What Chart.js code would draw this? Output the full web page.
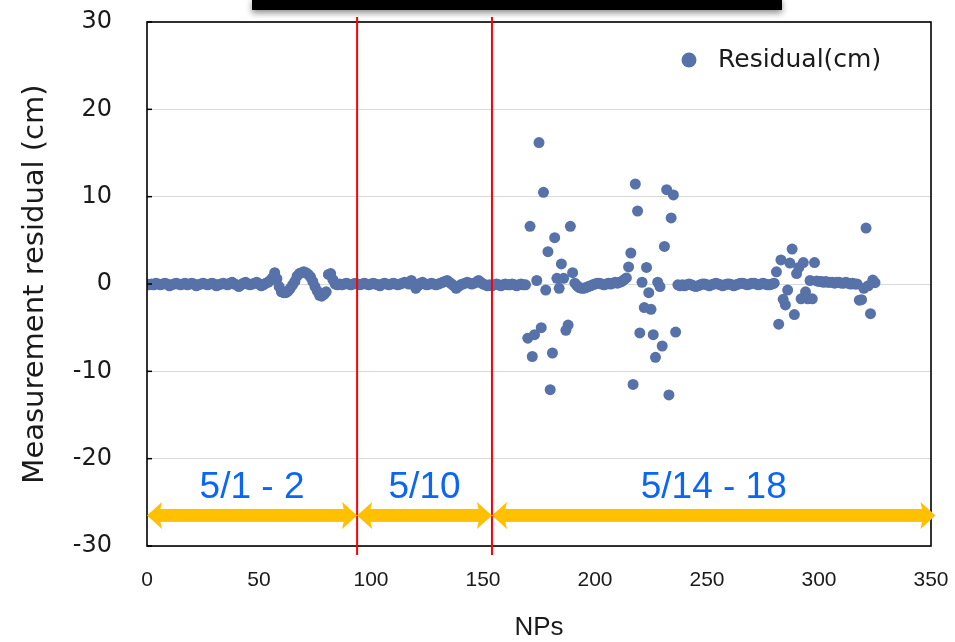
<!DOCTYPE html>
<html>
<head>
<meta charset="utf-8">
<script src="https://cdn.jsdelivr.net/npm/chart.js@4.4.1/dist/chart.umd.min.js"></script>
<style>
  html, body { margin: 0; padding: 0; background: #ffffff; }
  #wrap { width: 955px; height: 642px; position: relative; }
</style>
</head>
<body>
<div id="wrap"><canvas id="c" width="955" height="642"></canvas></div>
<script>
// ---- Data ----
// Residuals (cm) per NP index, split in consecutive runs with their first NP number
const run1Start = 0;
const run1 = [
  0.0,-0.1,0.0,-0.1,0.1,0.0,-0.1,0.0,0.1,0.0,
  -0.2,-0.1,0.0,0.1,0.0,-0.1,0.0,0.1,-0.1,0.0,
  0.1,0.0,-0.2,-0.1,0.0,0.1,0.0,-0.1,0.0,0.1,
  0.0,-0.2,-0.1,0.0,0.1,0.0,-0.1,0.1,0.2,0.0,
  -0.1,-0.3,-0.1,0.1,0.2,0.0,-0.1,0.0,0.1,0.2,
  0.0,-0.2,-0.1,0.1,0.2,0.4,0.7,1.3,0.6,-0.3
];
const run2Start = 60;
const run2 = [
  -0.9,-1.0,-1.0,-0.8,-0.5,-0.1,0.3,0.9,1.2,1.3,
  1.4,1.3,1.1,0.8,0.3,-0.3,-0.8,-1.3,-1.4,-1.2,
  -0.9,1.1,1.2,0.5,0.0,-0.1,0.0,-0.1,0.0,0.1
];
const run3Start = 90;
const run3 = [
  0.0,-0.1,0.0,0.1,0.0,-0.1,0.0,0.1,0.0,-0.1,
  0.0,0.1,0.0,-0.1,-0.2,0.0,0.1,0.0,-0.1,0.0,
  0.1,0.0,-0.1,0.0,0.1,0.2,0.1,0.0,0.4,0.0,
  -0.5,-0.2,0.1,0.2,0.0,-0.1,0.0,0.1,0.0,-0.1,
  0.0,0.1,0.2,0.3,0.4,0.2,0.0,-0.2,-0.5,-0.3,
  -0.1,0.0,0.1,0.2,0.1,0.0,0.1,0.2,0.4,0.2,
  0.0,-0.1,-0.2,-0.1
];
const run4Start = 154;
const run4 = [
  -0.2,-0.1,0.0,-0.1,-0.2,-0.1,0.0,-0.1,-0.1,0.0,
  -0.1,-0.2,-0.1,0.0,-0.1,-0.1
];
const run5Start = 170;
const run5 = [
  -6.2,6.6,-8.3,-5.8,0.4,16.2,-5.0,10.5,-0.7,3.7,
  -12.1,-7.9,5.3,0.65,-0.5,2.3,0.65,-5.3,-4.7,6.6,
  1.3
];
const run6Start = 191;
const run6 = [
  0.1,-0.2,-0.4,-0.5,-0.5,-0.4,-0.3,-0.2,-0.1,0.0,
  0.1,0.1,0.0,-0.1,0.0,0.1,0.0,0.1,0.2,0.1,
  0.2,0.3,0.5,0.7
];
const run7Start = 215;
const run7 = [
  1.95,3.55,-11.5,11.45,8.36,-5.6,0.2,-2.7,1.9,-1.0,
  -2.9,-5.8,-8.4,0.2,-0.3,-7.1,4.3,10.8,-12.7,7.56,
  10.2,-5.5
];
const run8Start = 237;
const run8 = [
  -0.1,-0.2,-0.1,-0.2,-0.1,0.0,-0.1,-0.2,-0.3,-0.2,
  -0.1,0.0,0.0,-0.1,-0.2,-0.1,0.0,0.1,0.0,-0.1,
  -0.2,-0.1,0.0,0.0,-0.1,-0.2,-0.1,0.0,0.1,0.1,
  0.0,-0.1,0.0,0.1,0.1,0.0,-0.1,0.0,0.1,0.0,
  -0.1,-0.1,0.0,0.1
];
const run9Start = 281;
const run9 = [
  1.4,-4.6,2.75,-1.75,-2.4,-0.7,2.4,4.0,-3.5,1.2,
  1.9,-1.7,2.45,-0.9,-1.7,0.4,-1.7,2.45,0.35
];
const run10Start = 300;
const run10 = [
  0.3,0.3,0.2,0.3,0.2,0.2,0.2,0.1,0.2,0.2,
  0.1,0.1,0.2,0.1,0.0,0.1,0.0
];
const run11Start = 317;
const run11 = [0.0,-1.85,-1.8,-0.5,6.4,-0.2,-3.4,0.45,0.15];

// Measurement periods (NP boundaries) and their labels
const periodBounds = [0, 93.8, 154, 352];
const periodLabels = ['5/1 - 2', '5/10', '5/14 - 18'];
const periodArrowY = -26.5;
const periodLabelY = -23.3;

// Axis ticks
const xTicks = [0, 50, 100, 150, 200, 250, 300, 350];
const yTicks = [-30, -20, -10, 0, 10, 20, 30];
const seriesName = 'Residual(cm)';

// ---- Build points ----
const runs = [
  [run1Start, run1], [run2Start, run2], [run3Start, run3], [run4Start, run4],
  [run5Start, run5], [run6Start, run6], [run7Start, run7], [run8Start, run8],
  [run9Start, run9], [run10Start, run10], [run11Start, run11]
];
const points = [];
runs.forEach(([start, vals]) => vals.forEach((v, i) => points.push({ x: start + i, y: v })));

const POINT_COLOR = '#5672A8';
const TEXT_COLOR = '#1a1a1a';

const overlay = {
  id: 'overlay',
  afterDatasetsDraw(chart) {
    const ctx = chart.ctx;
    const a = chart.chartArea;
    const xs = chart.scales.x, ys = chart.scales.y;
    ctx.save();

    // inward tick marks on the y axis
    ctx.strokeStyle = '#000';
    ctx.lineWidth = 1.5;
    yTicks.forEach(t => {
      const py = ys.getPixelForValue(t);
      ctx.beginPath();
      ctx.moveTo(a.left, py);
      ctx.lineTo(a.left + 5, py);
      ctx.stroke();
    });

    // frame
    ctx.strokeStyle = '#000';
    ctx.lineWidth = 1.6;
    ctx.strokeRect(a.left, a.top, a.right - a.left, a.bottom - a.top);

    // red period separators
    ctx.strokeStyle = '#ff0000';
    ctx.lineWidth = 2;
    [periodBounds[1], periodBounds[2]].forEach(v => {
      const px = xs.getPixelForValue(v);
      ctx.beginPath();
      ctx.moveTo(px, a.top - 5);
      ctx.lineTo(px, a.bottom + 9);
      ctx.stroke();
    });

    // gold double arrows
    const ay = ys.getPixelForValue(periodArrowY);
    ctx.fillStyle = '#FFC000';
    for (let i = 0; i < periodLabels.length; i++) {
      const x1 = xs.getPixelForValue(periodBounds[i]);
      const x2 = xs.getPixelForValue(periodBounds[i + 1]);
      const hl = 15, hh = 13.5, sh = 6.5;
      ctx.fillRect(x1 + hl - 4, ay - sh, (x2 - x1) - 2 * hl + 8, sh * 2);
      ctx.beginPath();
      ctx.moveTo(x1, ay);
      ctx.lineTo(x1 + hl, ay - hh);
      ctx.lineTo(x1 + hl - 3, ay);
      ctx.lineTo(x1 + hl, ay + hh);
      ctx.closePath();
      ctx.fill();
      ctx.beginPath();
      ctx.moveTo(x2, ay);
      ctx.lineTo(x2 - hl, ay - hh);
      ctx.lineTo(x2 - hl + 3, ay);
      ctx.lineTo(x2 - hl, ay + hh);
      ctx.closePath();
      ctx.fill();
    }

    // period labels
    const ly = ys.getPixelForValue(periodLabelY);
    ctx.fillStyle = '#0a66f5';
    ctx.font = '37px "Liberation Sans", Arial, sans-serif';
    ctx.textAlign = 'center';
    ctx.textBaseline = 'middle';
    for (let i = 0; i < periodLabels.length; i++) {
      const cx = (xs.getPixelForValue(periodBounds[i]) + xs.getPixelForValue(periodBounds[i + 1])) / 2;
      ctx.fillText(periodLabels[i], cx, ly);
    }

    // legend inside plot area
    ctx.fillStyle = POINT_COLOR;
    ctx.beginPath();
    ctx.arc(689, 60, 7.5, 0, Math.PI * 2);
    ctx.fill();
    ctx.fillStyle = TEXT_COLOR;
    ctx.font = '25px "DejaVu Sans", sans-serif';
    ctx.textAlign = 'left';
    ctx.fillText(seriesName, 718, 60);

    // black title box cut at top, with shadow
    ctx.shadowColor = 'rgba(0,0,0,0.45)';
    ctx.shadowBlur = 6;
    ctx.shadowOffsetY = 3;
    ctx.fillStyle = '#000';
    ctx.fillRect(252, -2, 530, 12);
    ctx.restore();
  }
};

new Chart(document.getElementById('c'), {
  type: 'scatter',
  data: {
    datasets: [{
      label: seriesName,
      data: points,
      backgroundColor: POINT_COLOR,
      borderColor: POINT_COLOR,
      borderWidth: 0,
      pointRadius: 5.5,
      pointHoverRadius: 5.5
    }]
  },
  options: {
    responsive: false,
    animation: false,
    layout: { padding: { left: 0, right: 24, top: 22, bottom: 0 } },
    plugins: { legend: { display: false }, tooltip: { enabled: false } },
    scales: {
      x: {
        type: 'linear', min: xTicks[0], max: xTicks[xTicks.length - 1],
        afterBuildTicks(s) { s.ticks = xTicks.map(v => ({ value: v })); },
        ticks: { padding: 22, maxRotation: 0, color: TEXT_COLOR,
                 font: { family: '"Liberation Sans", Arial, sans-serif', size: 21 } },
        grid: { display: false, drawTicks: false },
        border: { display: false },
        title: { display: true, text: 'NPs', color: TEXT_COLOR,
                 font: { family: '"Liberation Sans", Arial, sans-serif', size: 26, lineHeight: 1 },
                 padding: { top: 0, bottom: 1 } },
        afterFit(s) { s.height = 96; s.paddingLeft = 0; s.paddingRight = 0; }
      },
      y: {
        type: 'linear', min: yTicks[0], max: yTicks[yTicks.length - 1],
        afterBuildTicks(s) { s.ticks = yTicks.map(v => ({ value: v })); },
        ticks: { padding: 35, color: TEXT_COLOR,
                 font: { family: '"DejaVu Sans", sans-serif', size: 24 } },
        grid: { color: '#d9d9d9', lineWidth: 1, drawTicks: false },
        border: { display: false },
        title: { display: true, text: 'Measurement residual (cm)', color: TEXT_COLOR,
                 font: { family: '"DejaVu Sans", sans-serif', size: 29, lineHeight: 1.2 },
                 padding: { top: 18, bottom: 0 } },
        afterFit(s) { s.width = 147; s.paddingTop = 0; s.paddingBottom = 0; }
      }
    }
  },
  plugins: [overlay]
});
</script>
</body>
</html>
